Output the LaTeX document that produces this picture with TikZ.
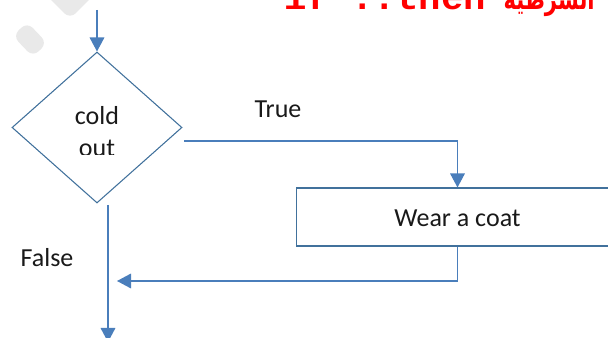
\documentclass[tikz,border=0pt]{standalone}
\usepackage{fontspec}
\setmainfont{Carlito}
\newfontfamily\codefont{Liberation Mono}
\newfontfamily\arabicfont[Script=Arabic]{DejaVu Sans}
\TeXXeTstate=1
\usetikzlibrary{shapes.geometric,arrows.meta}
\definecolor{flowblue}{RGB}{74,126,187}
\definecolor{edgeblue}{RGB}{65,113,156}
\definecolor{markgray}{RGB}{233,233,233}
\begin{document}
\begin{tikzpicture}[x=0.75pt,y=-0.75pt,
  conn/.style={draw=flowblue, line width=0.9pt, -{Triangle[length=10.5pt,width=11pt]}},
  decision/.style={diamond, draw=edgeblue, line width=0.8pt, inner sep=0pt,
    minimum width=127.5pt, minimum height=113.25pt},
  process/.style={rectangle, draw=edgeblue, line width=0.8pt, inner sep=0pt,
    minimum width=242pt, minimum height=43.5pt},
  lbl/.style={font=\fontsize{19.5}{23}\selectfont, text=black!90, inner sep=0pt},
  wmark/.style={fill=markgray, rounded corners=6pt}
]
\clip (0,0) rectangle (608,338);

% faint background marks
\fill[wmark] (70,19) -- (46,-5) -- (70,-29) -- (94,-5) -- cycle;
\fill[wmark] (12.8,35.9) -- (27.2,22.1) -- (47.2,43.1) -- (32.8,56.9) -- cycle;

% heading (partly above the page)
\node[anchor=base west, text=red, inner sep=0pt,
  font=\codefont\bfseries\fontsize{28}{32}\selectfont] (code) at (284,10) {if ..then};
\node[anchor=base east, text=red, inner sep=0pt,
  font=\arabicfont\bfseries\fontsize{22}{26}\selectfont] (arab) at (595,10)
  {\scalebox{0.72}[1]{\beginR الشرطية\endR}};

% decision
\node[decision] (cold) at (97,127.5) {};
\node[lbl, anchor=base] (coldtxt) at (97,125) {cold};
\begin{scope}
  \clip (40,130) rectangle (160,155);
  \node[lbl, anchor=base] (outtxt) at (97,157) {out};
\end{scope}

% process
\node[process] (coat) at (457.5,217) {};
\node[lbl] (coattxt) at (457.5,218) {Wear a coat};

% labels
\node[lbl] (truelbl) at (278,109) {True};
\node[lbl] (falselbl) at (47,258) {False};

% connector end points
\coordinate (start) at (97,10);
\coordinate (tstart) at (184,141);
\coordinate (fstart) at (108,205);
\coordinate (fend) at (108,342);
\coordinate (join) at (117,281);

\draw[conn] (start) -- (cold.north);
\draw[conn] (tstart) -| (coat.north);
\draw[conn] (fstart) -- (fend);
\draw[conn] (coat.south) |- (join);
\end{tikzpicture}
\end{document}
